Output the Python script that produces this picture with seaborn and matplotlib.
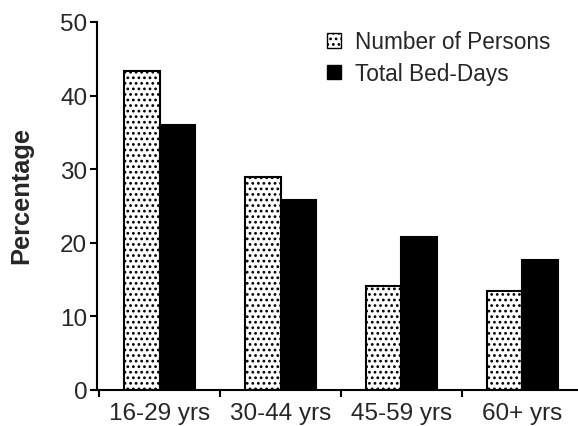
import matplotlib
matplotlib.use("Agg")
import matplotlib.pyplot as plt
from matplotlib.patches import Patch
import seaborn as sns
import pandas as pd

age_groups = ["16-29 yrs", "30-44 yrs", "45-59 yrs", "60+ yrs"]
series_names = ["Number of Persons", "Total Bed-Days"]
number_of_persons = [43.4, 29.0, 14.1, 13.4]
total_bed_days = [36.0, 25.8, 20.8, 17.7]
y_ticks = [0, 10, 20, 30, 40, 50]

df = pd.DataFrame({
    "age": age_groups * 2,
    "series": [series_names[0]] * 4 + [series_names[1]] * 4,
    "pct": number_of_persons + total_bed_days,
})

sns.set_style("ticks")
plt.rcParams["font.family"] = ["Liberation Sans", "DejaVu Sans"]
plt.rcParams["hatch.linewidth"] = 1.2
plt.rcParams["hatch.color"] = "black"

fig = plt.figure(figsize=(5.78, 4.27), dpi=100)
ax = fig.add_axes([97 / 578, 36 / 427, 481 / 578, 368 / 427])

sns.barplot(data=df, x="age", y="pct", hue="series", order=age_groups,
            hue_order=series_names, palette=["white", "black"],
            edgecolor="black", linewidth=1.5, width=0.58, saturation=1,
            legend=False, ax=ax)

for p in ax.containers[0]:
    p.set_hatch("...")

ax.set_ylim(0, 50)
ax.set_xlim(-0.517, 3.459)
ax.set_yticks(y_ticks)
ax.set_yticklabels([str(v) for v in y_ticks])
ax.tick_params(axis="y", labelsize=17.5, length=5, width=1.5, pad=2, color="black")

ax.set_xticks([-0.5, 0.5, 1.5, 2.5])
ax.set_xticklabels([])
ax.tick_params(axis="x", which="major", length=5, width=1.5, color="black")
ax.set_xticks(range(len(age_groups)), minor=True)
ax.set_xticklabels(age_groups, minor=True)
ax.tick_params(axis="x", which="minor", length=0, labelsize=17.5, pad=9)

ax.set_xlabel("")
ax.set_ylabel("Percentage", fontsize=18.3, fontweight="bold")
ax.yaxis.set_label_coords(-0.133, 0.53)

for s in ["top", "right"]:
    ax.spines[s].set_visible(False)
for s in ["left", "bottom"]:
    ax.spines[s].set_linewidth(1.5)
    ax.spines[s].set_color("black")

handles = [Patch(facecolor="white", edgecolor="black", hatch="...", linewidth=1.0),
           Patch(facecolor="black", edgecolor="black")]
ax.legend(handles, series_names, loc="upper left", bbox_to_anchor=(0.478, 0.977),
          frameon=False, fontsize=16.3, handlelength=0.62, handleheight=0.62,
          handletextpad=0.62, labelspacing=0.38, borderpad=0, borderaxespad=0)

fig.savefig("out.png", dpi=100)
